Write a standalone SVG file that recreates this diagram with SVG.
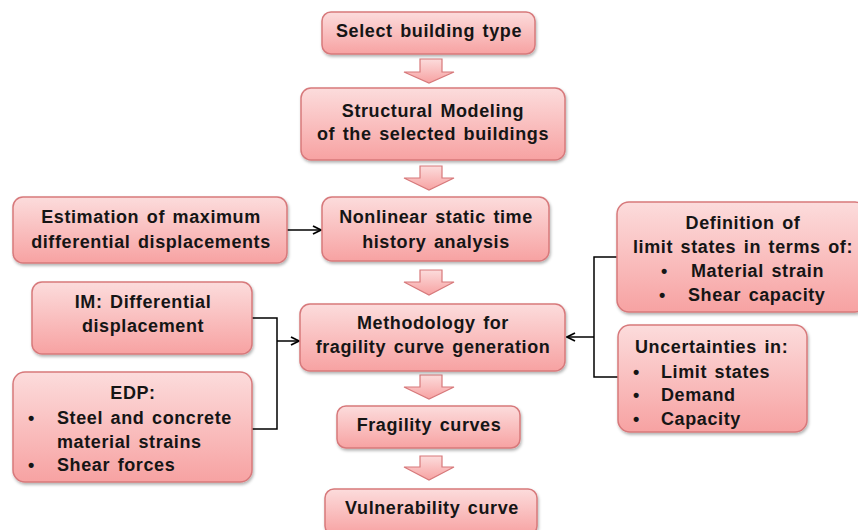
<svg xmlns="http://www.w3.org/2000/svg" width="858" height="530" viewBox="0 0 858 530">
<defs>
<linearGradient id="g" x1="0" y1="0" x2="0" y2="1">
<stop offset="0" stop-color="#fcdcdc"/>
<stop offset="1" stop-color="#f7a2a2"/>
</linearGradient>
<filter id="sh" x="-10%" y="-10%" width="130%" height="140%">
<feDropShadow dx="1" dy="2" stdDeviation="1.5" flood-color="#000" flood-opacity="0.3"/>
</filter>
<marker id="ah" viewBox="0 0 10 10" refX="9" refY="5" markerWidth="10" markerHeight="10" markerUnits="userSpaceOnUse" orient="auto">
<path d="M1,1 L9,5 L1,9" fill="none" stroke="#000" stroke-width="1.8"/>
</marker>
</defs>
<style>
.b{fill:url(#g);stroke:#d7797b;stroke-width:1.5;filter:url(#sh)}
.a{fill:url(#g);stroke:#d7797b;stroke-width:1.2}
text{font-family:"Liberation Sans",Arial,sans-serif;font-weight:bold;font-size:18px;fill:#151515;letter-spacing:0.6px;word-spacing:2px}
.c{text-anchor:middle}
.l{fill:none;stroke:#000;stroke-width:1.5}
</style>
<rect width="858" height="530" fill="#fff"/>
<g id="arrows">
<path class="a" d="M420,59 H442 V72 H454 L429,83 L404,72 H420 Z"/>
<path class="a" d="M420,166 H442 V178 H454 L429,190 L404,178 H420 Z"/>
<path class="a" d="M420,270 H442 V282 H454 L429,295 L404,282 H420 Z"/>
<path class="a" d="M420,375 H442 V387 H454 L429,399 L404,387 H420 Z"/>
<path class="a" d="M420,456 H442 V467 H454 L429,480 L404,467 H420 Z"/>
</g>
<g id="connectors">
<path class="l" d="M287,230 H321" marker-end="url(#ah)"/>
<path class="l" d="M252,318 H277 V429 H252"/>
<path class="l" d="M277,341 H299" marker-end="url(#ah)"/>
<path class="l" d="M617,257 H594 V377 H618"/>
<path class="l" d="M594,337 H567" marker-end="url(#ah)"/>
</g>
<g id="select">
<rect class="b" x="322" y="12" width="213" height="42" rx="9"/>
<text class="c" x="429" y="37">Select building type</text>
</g>
<g id="structural">
<rect class="b" x="301" y="88" width="264" height="72" rx="10"/>
<text class="c" x="433" y="117">Structural Modeling</text>
<text class="c" x="433" y="140">of the selected buildings</text>
</g>
<g id="estimation">
<rect class="b" x="13" y="197" width="274" height="66" rx="10"/>
<text class="c" x="151" y="223">Estimation of maximum</text>
<text class="c" x="151" y="248">differential displacements</text>
</g>
<g id="nonlinear">
<rect class="b" x="322" y="197" width="227" height="64" rx="10"/>
<text class="c" x="436" y="223">Nonlinear static time</text>
<text class="c" x="436" y="248">history analysis</text>
</g>
<g id="im">
<rect class="b" x="32" y="282" width="220" height="72" rx="10"/>
<text class="c" x="143" y="308">IM: Differential</text>
<text class="c" x="143" y="332">displacement</text>
</g>
<g id="edp">
<rect class="b" x="13" y="372" width="239" height="110" rx="12"/>
<text class="c" x="133" y="399">EDP:</text>
<text x="28" y="424">•</text>
<text x="57" y="424">Steel and concrete</text>
<text x="57" y="448">material strains</text>
<text x="28" y="471">•</text>
<text x="57" y="471">Shear forces</text>
</g>
<g id="methodology">
<rect class="b" x="300" y="304" width="265" height="67" rx="10"/>
<text class="c" x="433" y="329">Methodology for</text>
<text class="c" x="433" y="353">fragility curve generation</text>
</g>
<g id="definition">
<rect class="b" x="617" y="202" width="250" height="110" rx="12"/>
<text class="c" x="743" y="229">Definition of</text>
<text class="c" x="743" y="253">limit states in terms of:</text>
<text x="661" y="277">•</text>
<text x="691" y="277">Material strain</text>
<text x="659" y="301">•</text>
<text x="688" y="301">Shear capacity</text>
</g>
<g id="uncertainties">
<rect class="b" x="618" y="325" width="189" height="107" rx="12"/>
<text x="635" y="353">Uncertainties in:</text>
<text x="633" y="378">•</text>
<text x="661" y="378">Limit states</text>
<text x="633" y="401">•</text>
<text x="661" y="401">Demand</text>
<text x="633" y="425">•</text>
<text x="661" y="425">Capacity</text>
</g>
<g id="fragility">
<rect class="b" x="337" y="406" width="183" height="42" rx="9"/>
<text class="c" x="429" y="431">Fragility curves</text>
</g>
<g id="vulnerability">
<rect class="b" x="325" y="489" width="212" height="46" rx="9"/>
<text class="c" x="432" y="514">Vulnerability curve</text>
</g>
</svg>
